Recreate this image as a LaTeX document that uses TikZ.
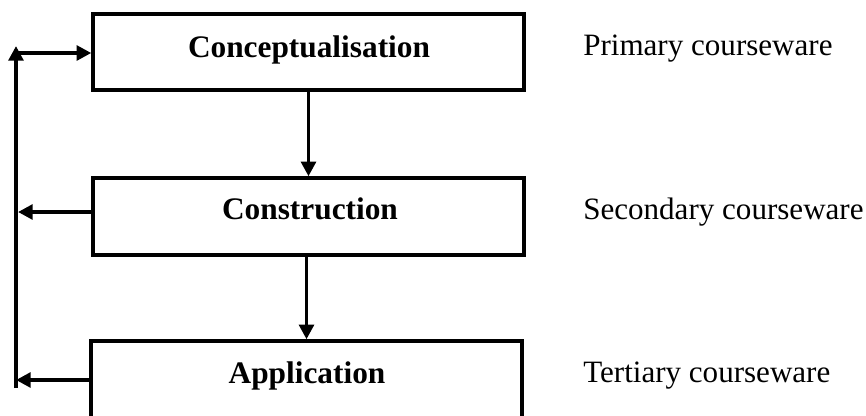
\documentclass[tikz,border=0pt]{standalone}
\usepackage{fontspec}
\setmainfont{Liberation Serif}
\usetikzlibrary{arrows.meta}
\begin{document}
\begin{tikzpicture}[x=0.75pt,y=-0.75pt,
  stagebox/.style={draw,line width=2.8pt,rectangle,minimum width=323pt,minimum height=57.5pt,inner sep=0pt},
  stagetext/.style={font=\fontsize{23.5}{27}\selectfont\bfseries,anchor=base,inner sep=0pt},
  sidetext/.style={font=\fontsize{23.3}{27}\selectfont,anchor=base west,inner sep=0pt},
  arr/.style={line width=2.8pt,-{Triangle[length=11pt,width=11pt]}}]
\clip (0,0) rectangle (866,415);
\fill[white] (0,0) rectangle (866,415);
% boxes
\node[stagebox] (b1) at (308.5,52) {};
\node[stagebox] (b2) at (308.5,216.5) {};
\node[stagebox] (b3) at (306.5,379.5) {};
% box texts
\node[stagetext] (t1) at (309,57) {Conceptualisation};
\node[stagetext] (t2) at (310,219) {Construction};
\node[stagetext] (t3) at (307,383) {Application};
% side texts
\node[sidetext] (s1) at (583,55) {Primary courseware};
\node[sidetext] (s2) at (583,219) {Secondary courseware};
\node[sidetext] (s3) at (583,382) {Tertiary courseware};
% feedback loop
\coordinate (vb) at (16,388);
\coordinate (vt) at (16,46);
\coordinate (ht) at (16,53);
\coordinate (c2) at (18,212);
\coordinate (c3) at (16,380);
\draw[arr] (vb) -- (vt);
\draw[arr] (ht) -- (b1.west |- ht);
\draw[arr] (b2.west |- c2) -- (c2);
\draw[arr] (b3.west |- c3) -- (c3);
% down arrows
\draw[arr] (b1.south) -- (b2.north);
\draw[arr] (b3.north |- b2.south) -- (b3.north);
\end{tikzpicture}
\end{document}
